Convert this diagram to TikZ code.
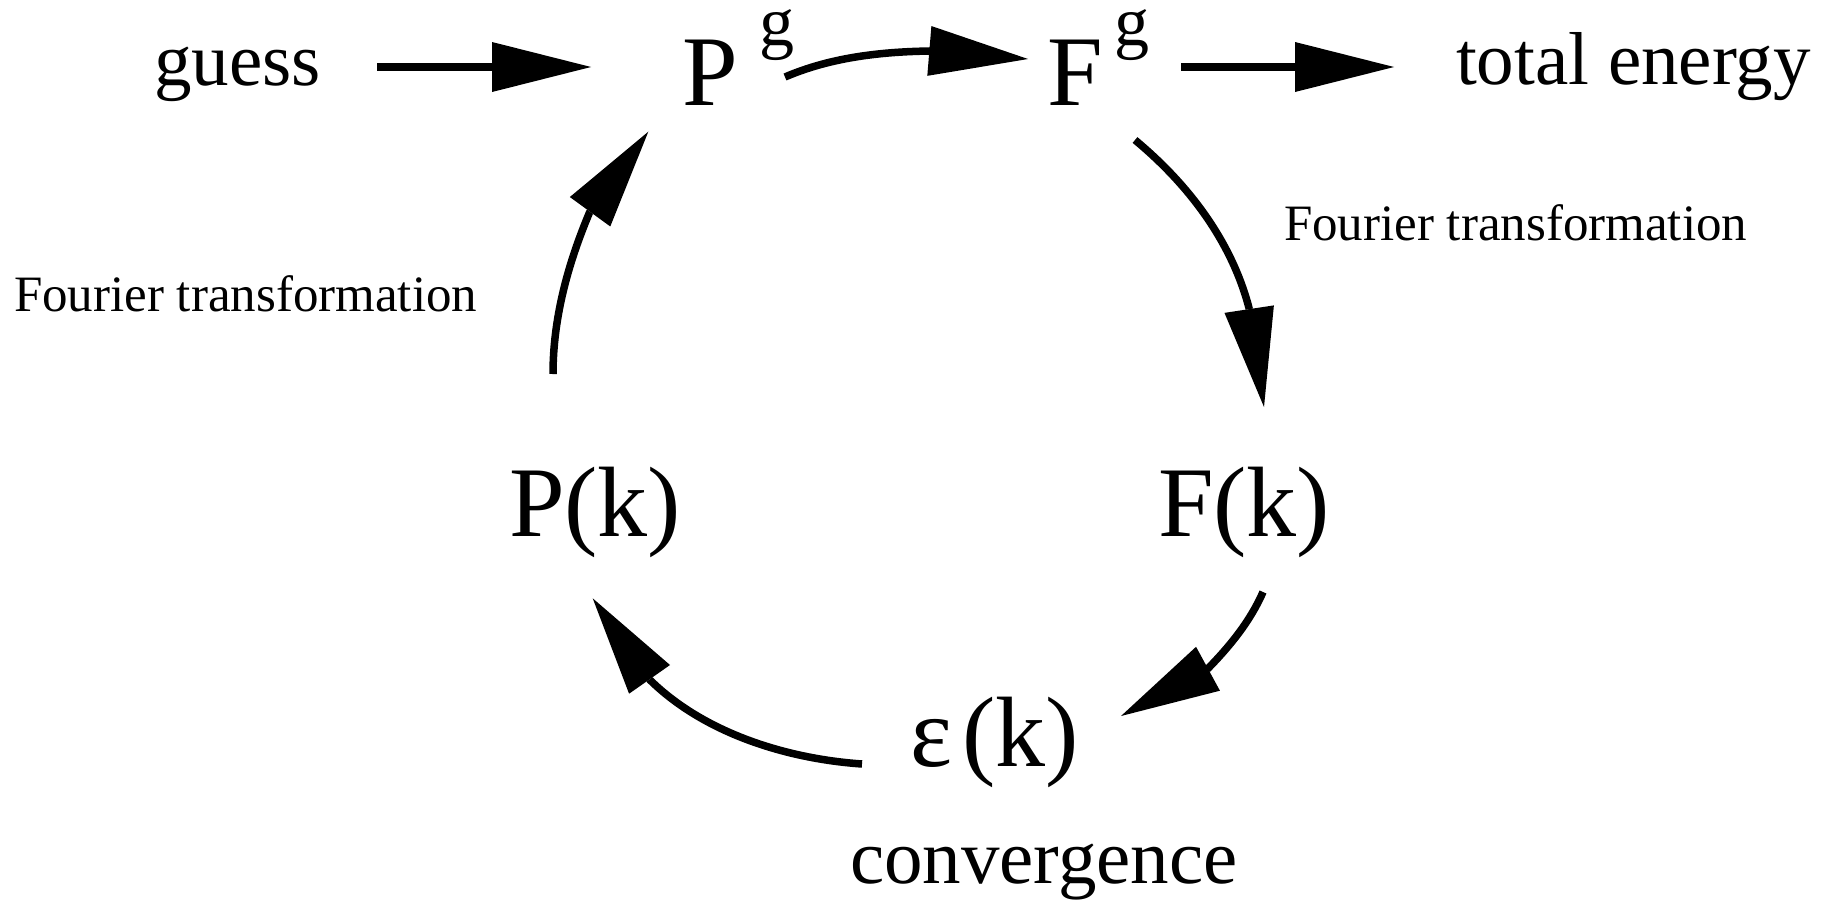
\documentclass[tikz,border=0pt]{standalone}
\usepackage{fontspec}
\setmainfont{Liberation Serif}
\usetikzlibrary{arrows.meta}
\begin{document}
\begin{tikzpicture}[x=1pt,y=-1pt,
  lbl/.style={anchor=base west,inner sep=0pt,outer sep=0pt},
  big/.style={lbl,font=\fontsize{100}{100}\selectfont},
  mid/.style={lbl,font=\fontsize{75}{75}\selectfont},
  small/.style={lbl,font=\fontsize{51}{51}\selectfont},
  arr/.style={line width=7.5pt,-{Triangle[length=99pt,width=50pt,line width=0pt]}}]
\useasboundingbox (0,0) rectangle (1834,902);
% texts
\node[mid] (guess) at (154,85) {guess};
\node[big] (Pg) at (682,105) {P\hspace{22pt}\raisebox{60pt}[0pt][0pt]{\fontsize{70}{70}\selectfont g}};
\node[big] (Fg) at (1047,105) {F\hspace{12pt}\raisebox{60pt}[0pt][0pt]{\fontsize{70}{70}\selectfont g}};
\node[mid] (energy) at (1456,84) {total energy};
\node[big] (Pk) at (509,536) {P(k)};
\node[big] (Fk) at (1158,536) {F(k)};
\node[big] (ek) at (910,766) {ε\hspace{10pt}(k)};
\node[lbl,font=\fontsize{77}{77}\selectfont] (conv) at (850,883) {convergence};
\node[small] (ftl) at (14,311) {Fourier transformation};
\node[small] (ftr) at (1284,240) {Fourier transformation};
% connector end points
\coordinate (s1) at (377,67);  \coordinate (t1) at (591,67);
\coordinate (s3) at (1181,67); \coordinate (t3) at (1394,67);
\coordinate (s2) at (785,77);  \coordinate (b2) at (930,51);  \coordinate (t2) at (1028,59);
\coordinate (s4) at (1135,140); \coordinate (b4) at (1249,308); \coordinate (t4) at (1264,407);
\coordinate (s5) at (1263,592); \coordinate (b5) at (1207.5,669); \coordinate (t5) at (1121,716);
\coordinate (s6) at (862,764); \coordinate (b6) at (650,680); \coordinate (t6) at (592.7,598.3);
\coordinate (s7) at (553,374); \coordinate (b7) at (589.5,212.5); \coordinate (t7) at (648.3,131.7);
% connectors
\draw[arr] (s1) -- (t1);
\draw[arr] (s3) -- (t3);
\draw[arr] (s2) .. controls (830.6,57.4) and (880.4,51.8) .. (b2) -- (t2);
\draw[arr] (s4) .. controls (1188.3,184.3) and (1231.4,240.9) .. (b4) -- (t4);
\draw[arr] (s5) .. controls (1250.2,621.3) and (1230,646) .. (b5) -- (t5);
\draw[arr] (s6) .. controls (786,758.7) and (704,733) .. (b6) -- (t6);
\draw[arr] (s7) .. controls (553,318) and (568,263.6) .. (b7) -- (t7);
\end{tikzpicture}
\end{document}
